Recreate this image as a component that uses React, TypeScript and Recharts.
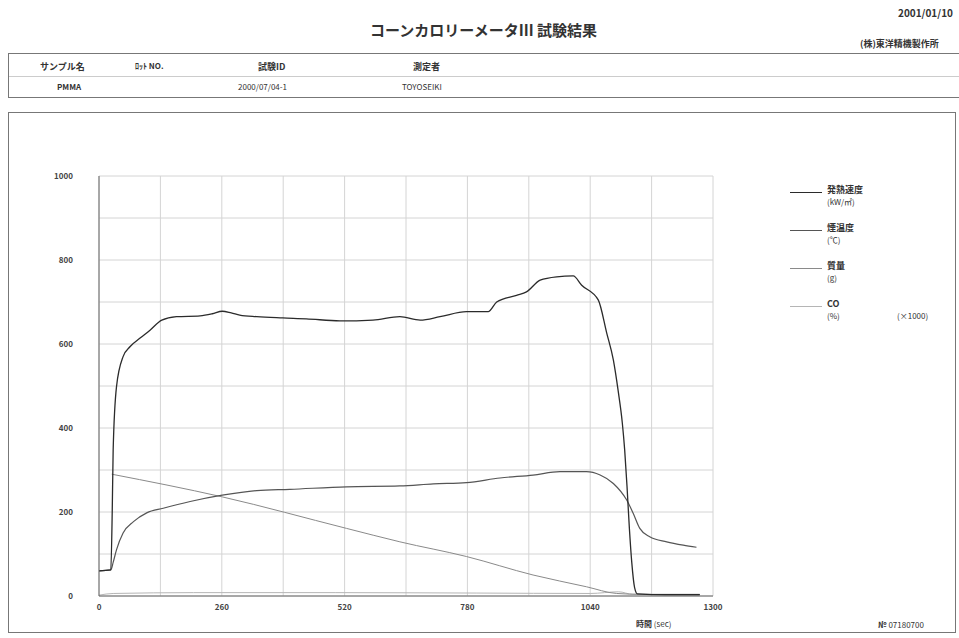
import React from 'react'
import { LineChart, Line, XAxis, YAxis, CartesianGrid } from 'recharts'

// 発熱速度 (kW/m2)
const hrrTime = [0, 25, 28, 30, 37, 51, 66, 87, 108, 133, 164, 214, 240, 261, 280, 298, 334, 389, 439, 510, 580, 637, 680, 722, 778, 824, 842, 884, 905, 934, 969, 1004, 1022, 1057, 1075, 1089, 1099, 1108, 1113, 1118, 1123, 1128, 1134, 1140, 1200, 1272]
const hrrValue = [60, 62, 200, 348, 498, 570, 594, 614, 633, 657, 665, 667, 672, 678, 674, 669, 665, 662, 660, 655, 657, 665, 657, 665, 677, 677, 700, 716, 724, 752, 760, 762, 740, 705, 626, 562, 490, 412, 348, 260, 160, 80, 20, 5, 3, 3]

// 煙温度 (℃)
const tempTime = [0, 25, 30, 37, 51, 73, 101, 136, 193, 261, 334, 404, 524, 637, 708, 778, 849, 919, 976, 1032, 1061, 1089, 1117, 1131, 1145, 1166, 1202, 1237, 1265]
const tempValue = [60, 62, 80, 110, 150, 177, 198, 209, 225, 240, 251, 254, 260, 262, 267, 270, 281, 288, 296, 296, 288, 268, 229, 197, 161, 141, 129, 121, 116]

// 質量 (g)
const massTime = [27, 261, 524, 637, 778, 919, 1032, 1096, 1150, 1272]
const massValue = [290, 236, 161, 129, 94, 50, 22, 6, 4, 4]

// CO (%) x1000
const coTime = [0, 30, 200, 500, 800, 1040, 1100, 1130, 1272]
const coValue = [2, 6, 8, 8, 7, 6, 10, 4, 3]

const xTicks = [0, 130, 260, 390, 520, 650, 780, 910, 1040, 1170, 1300]
const yTicks = [0, 100, 200, 300, 400, 500, 600, 700, 800, 900, 1000]

const toRows = (t: number[], v: number[]) => t.map((x, i) => ({ t: x, v: v[i] }))

const SERIES = [
  { key: 'hrr', data: toRows(hrrTime, hrrValue), color: '#2b2b2b', width: 1.3, label: '発熱速度', unit: '(kW/㎡)' },
  { key: 'temp', data: toRows(tempTime, tempValue), color: '#555', width: 1.2, label: '煙温度', unit: '(℃)' },
  { key: 'mass', data: toRows(massTime, massValue), color: '#8a8a8a', width: 1, label: '質量', unit: '(g)' },
  { key: 'co', data: toRows(coTime, coValue), color: '#b5b5b5', width: 1, label: 'CO', unit: '(%)' },
]

const font = '"Noto Sans CJK JP", "Noto Sans", sans-serif'
const tick = { fontSize: 8, fill: '#444', fontFamily: font, fontWeight: 700 }

const abs = (left: number, top: number, extra: React.CSSProperties = {}): React.CSSProperties => ({
  position: 'absolute', left, top, whiteSpace: 'nowrap', color: '#333', ...extra,
})

export default function App() {
  return (
    <div style={{ position: 'absolute', left: 0, top: 0, width: 959, height: 638, background: '#fff', fontFamily: font, color: '#333', overflow: 'hidden' }}>
      <div style={abs(370, 19, { fontSize: 15, fontWeight: 700 })}>コーンカロリーメータⅢ 試験結果</div>
      <div style={abs(898, 5, { fontSize: 10, fontWeight: 700 })}>2001/01/10</div>
      <div style={abs(860, 37, { fontSize: 9, fontWeight: 700 })}>(株)東洋精機製作所</div>

      {/* header table */}
      <div style={abs(8, 53, { width: 960, height: 45, border: '1px solid #777', boxSizing: 'border-box' })} />
      <div style={abs(9, 76, { width: 950, height: 0, borderTop: '1px solid #ccc' })} />
      <div style={abs(40, 60, { fontSize: 9, fontWeight: 700 })}>サンプル名</div>
      <div style={abs(135, 60, { fontSize: 8, fontWeight: 700 })}>ﾛｯﾄ NO.</div>
      <div style={abs(258, 60, { fontSize: 9, fontWeight: 700 })}>試験ID</div>
      <div style={abs(413, 60, { fontSize: 9, fontWeight: 700 })}>測定者</div>
      <div style={abs(57, 81, { fontSize: 8, fontWeight: 700 })}>PMMA</div>
      <div style={abs(238, 81, { fontSize: 8 })}>2000/07/04-1</div>
      <div style={abs(402, 81, { fontSize: 8 })}>TOYOSEIKI</div>

      {/* chart frame */}
      <div style={abs(8, 112, { width: 948, height: 521, border: '1px solid #777', boxSizing: 'border-box' })} />

      <div style={{ position: 'absolute', left: 0, top: 0 }}>
        <LineChart width={959} height={638} margin={{ top: 176, right: 246, bottom: 12, left: 49 }}>
          <CartesianGrid stroke="#d4d4d4" strokeWidth={1} />
          <XAxis
            type="number"
            dataKey="t"
            domain={[0, 1300]}
            ticks={xTicks}
            interval={0}
            tickFormatter={(v: number) => (v % 260 === 0 ? String(v) : '')}
            tickLine={false}
            axisLine={{ stroke: '#666' }}
            tick={tick}
            height={30}
            allowDuplicatedCategory={false}
          />
          <YAxis
            type="number"
            domain={[0, 1000]}
            ticks={yTicks}
            interval={0}
            tickFormatter={(v: number) => (v % 200 === 0 ? String(v) : '')}
            tickLine={false}
            tickMargin={20}
            axisLine={{ stroke: '#666' }}
            tick={tick}
            width={50}
          />
          {[...SERIES].reverse().map((s) => (
            <Line
              key={s.key}
              type="monotone"
              dataKey="v"
              data={s.data}
              stroke={s.color}
              strokeWidth={s.width}
              dot={false}
              isAnimationActive={false}
            />
          ))}
        </LineChart>
      </div>

      {/* legend */}
      {SERIES.map((s, i) => (
        <div key={s.key}>
          <div style={abs(790, 192 + i * 38, { width: 32, height: 0, borderTop: `1px solid ${s.color}` })} />
          <div style={abs(827, 184 + i * 38, { fontSize: 9, fontWeight: 700, lineHeight: '11px' })}>{s.label}</div>
          <div style={abs(827, 196 + i * 38, { fontSize: 8, lineHeight: '11px' })}>{s.unit}</div>
        </div>
      ))}
      <div style={abs(897, 310, { fontSize: 8 })}>(×1000)</div>

      <div style={abs(636, 618, { fontSize: 8 })}><b>時間</b> (sec)</div>
      <div style={abs(878, 619, { fontSize: 8 })}><b>№</b> 07180700</div>
    </div>
  )
}
